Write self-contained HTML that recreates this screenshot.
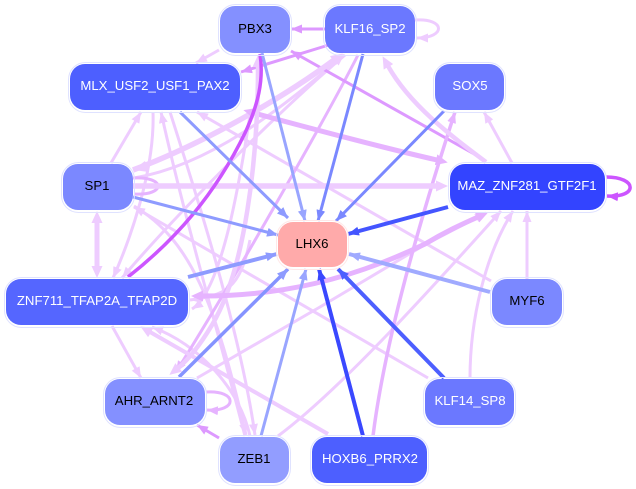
<!DOCTYPE html>
<html><head><meta charset="utf-8"><style>
html,body{margin:0;padding:0;background:#fff}
svg{display:block}
text{font-family:"Liberation Sans",sans-serif;font-size:13.2px;text-anchor:middle}
path{fill:none;stroke-linecap:butt}
.L{stroke:#eeccff}.M{stroke:#e6b3ff}.D{stroke:#dd99ff}.P{stroke:#cc55ff}
</style></head><body>
<svg width="636" height="489" viewBox="0 0 636 489" xmlns="http://www.w3.org/2000/svg">
<defs>
<marker id="aL" markerUnits="userSpaceOnUse" markerWidth="12" markerHeight="10" refX="11" refY="5" orient="auto-start-reverse"><polygon points="0,0.5 11,5 0,9.5" fill="#eeccff"/></marker>
<marker id="aM" markerUnits="userSpaceOnUse" markerWidth="12" markerHeight="10" refX="11" refY="5" orient="auto-start-reverse"><polygon points="0,0.5 11,5 0,9.5" fill="#e6b3ff"/></marker>
<marker id="aD" markerUnits="userSpaceOnUse" markerWidth="12" markerHeight="10" refX="11" refY="5" orient="auto-start-reverse"><polygon points="0,0.5 11,5 0,9.5" fill="#dd99ff"/></marker>
<marker id="aP" markerUnits="userSpaceOnUse" markerWidth="12" markerHeight="10" refX="11" refY="5" orient="auto-start-reverse"><polygon points="0,0.5 11,5 0,9.5" fill="#cc55ff"/></marker>
<marker id="tL" markerUnits="userSpaceOnUse" markerWidth="13" markerHeight="12" refX="1" refY="6" orient="auto-start-reverse"><polygon points="0,0.5 12,6 0,11.5" fill="#eeccff"/></marker>
<marker id="tM" markerUnits="userSpaceOnUse" markerWidth="13" markerHeight="12" refX="1" refY="6" orient="auto-start-reverse"><polygon points="0,0.5 12,6 0,11.5" fill="#e6b3ff"/></marker>
<marker id="b1" markerUnits="userSpaceOnUse" markerWidth="12" markerHeight="10" refX="11" refY="5" orient="auto"><polygon points="0,0.5 11,5 0,9.5" fill="#99a5ff"/></marker>
<marker id="b2" markerUnits="userSpaceOnUse" markerWidth="12" markerHeight="10" refX="11" refY="5" orient="auto"><polygon points="0,0.5 11,5 0,9.5" fill="#7a88ff"/></marker>
<marker id="b3" markerUnits="userSpaceOnUse" markerWidth="12" markerHeight="10" refX="11" refY="5" orient="auto"><polygon points="0,0.5 11,5 0,9.5" fill="#4455ff"/></marker>
<marker id="b4" markerUnits="userSpaceOnUse" markerWidth="12" markerHeight="10" refX="11" refY="5" orient="auto"><polygon points="0,0.5 11,5 0,9.5" fill="#3a48ff"/></marker>
<marker id="b5" markerUnits="userSpaceOnUse" markerWidth="12" markerHeight="10" refX="11" refY="5" orient="auto"><polygon points="0,0.5 11,5 0,9.5" fill="#4d5fff"/></marker>
<marker id="b6" markerUnits="userSpaceOnUse" markerWidth="12" markerHeight="10" refX="11" refY="5" orient="auto"><polygon points="0,0.5 11,5 0,9.5" fill="#8e9bff"/></marker>
<marker id="b7" markerUnits="userSpaceOnUse" markerWidth="12" markerHeight="10" refX="11" refY="5" orient="auto"><polygon points="0,0.5 11,5 0,9.5" fill="#a0aaff"/></marker>
</defs>

<!-- light edges -->
<g stroke-width="3">
<path class="L" d="M415 20C446 18 446 38 417 38" marker-end="url(#aL)"/>
<path class="L" d="M219 50L196 63" marker-end="url(#aL)"/>
<path class="L" d="M111 163L141 112" marker-end="url(#aL)"/>
<path class="L" d="M512 163L484 112" marker-end="url(#aL)"/>
<path class="L" d="M527 279L527 211" marker-end="url(#aL)"/>
<path class="L" d="M470 378C470 320 485 255 513 211" marker-end="url(#aL)"/>
<path class="L" d="M278 436C340 390 430 290 501 211" marker-end="url(#aL)"/>
<path class="L" d="M197 378L320 307L426 244L486 213" marker-end="url(#aL)"/>
<path class="L" d="M112 326L141 378" marker-end="url(#aL)"/>
<path class="L" d="M491 281L197 112" marker-end="url(#aL)"/>
<path class="L" d="M428 378L134 207" marker-end="url(#aL)"/>
<path class="L" d="M250 436C240 390 200 345 152 327" marker-end="url(#aL)"/>
<path class="L" d="M245 436C215 320 185 220 161 112" marker-end="url(#aL)"/>
<path class="L" d="M170 112C195 190 240 330 255 435" marker-end="url(#aL)"/>
<path class="L" d="M134 206C190 240 215 300 246 435" marker-end="url(#aL)"/>
<path class="L" d="M153 112C155 170 130 240 113 278" marker-end="url(#aL)"/>
<path class="L" d="M345 55C280 110 180 210 122 278" marker-end="url(#aL)"/>
<path class="L" d="M134 178C210 165 280 110 344 55" marker-end="url(#aL)"/>
<path class="L" d="M250 240C240 290 225 295 190 300" marker-end="url(#aL)"/>
<path class="L" d="M250 115C240 180 222 290 192 309" marker-end="url(#aL)"/>
<path class="D" d="M332 44L241 72" marker-end="url(#aD)"/>
<path class="D" d="M325 29L291 29" marker-end="url(#aD)"/>
<path class="D" d="M219 438L197 425" marker-end="url(#aD)"/>
<path class="M" d="M358 55C330 110 240 270 176 372" marker-end="url(#aM)"/>
<path class="M" d="M133 178C166 176 166 196 134 194"/>
<path class="M" d="M206 392C238 390 238 412 207 410" marker-end="url(#aM)"/>
<path class="D" d="M476 155L291 51" marker-end="url(#aD)"/>
<path class="P" d="M606 177C638 177 638 198 607 196" marker-end="url(#aP)" stroke-width="3.500"/>
<path class="M" d="M373 436C385 340 420 220 455 112" marker-end="url(#aM)" stroke-width="3.500"/>
</g>
<!-- thick light -->
<path class="L" stroke-width="5.500" d="M133 170C200 145 280 100 334 60" marker-end="url(#tL)"/>
<polygon points="133,170 145,161 149,172" fill="#eeccff"/>
<path class="L" stroke-width="4.500" d="M486 162C450 135 410 105 388 66" marker-end="url(#tL)"/>
<path class="L" stroke-width="5.500" d="M133 186L437 186" marker-end="url(#tL)"/>
<path class="L" stroke-width="5" d="M97 222L97 267" marker-start="url(#tL)" marker-end="url(#tL)"/>
<path class="M" stroke-width="5" d="M254 113C320 131 380 147 437 160" marker-start="url(#tM)" marker-end="url(#tM)"/>
<path class="L" stroke-width="4.500" d="M258 66C258 160 245 270 212 325C200 345 188 360 178 368" marker-start="url(#tL)" marker-end="url(#tL)"/>
<path class="L" stroke-width="4" d="M328 434L150 332" marker-end="url(#tL)"/>
<path class="M" stroke-width="5" d="M202 296C280 296 350 280 425 244C445 232 460 225 478 217" marker-start="url(#tM)" marker-end="url(#tM)"/>
<path class="P" stroke-width="3.500" d="M128 277C175 240 215 195 245 133C258 105 264 80 260 54"/>

<!-- blue edges into LHX6 -->
<g stroke-width="3">
<path stroke="#99a5ff" d="M262 53L305 221" marker-end="url(#b1)"/>
<path stroke="#7a88ff" d="M363 54L318 221" marker-end="url(#b2)"/>
<path stroke="#7a88ff" d="M444 111L336 221" marker-end="url(#b2)"/>
<path stroke="#4455ff" stroke-width="4" d="M448 207L348 234" marker-end="url(#b3)"/>
<path stroke="#8e9bff" d="M180 112L288 218" marker-end="url(#b6)"/>
<path stroke="#8e9bff" d="M133 197L278 235" marker-end="url(#b6)"/>
<path stroke="#8e9bff" stroke-width="4" d="M188 277L277 254" marker-end="url(#b6)"/>
<path stroke="#8593ff" stroke-width="3.500" d="M179 377L288 269" marker-end="url(#b6)"/>
<path stroke="#99a5ff" d="M261 436L306 269" marker-end="url(#b1)"/>
<path stroke="#3a48ff" stroke-width="4" d="M363 436L319 269" marker-end="url(#b4)"/>
<path stroke="#4d5fff" stroke-width="4" d="M444 378L338 269" marker-end="url(#b5)"/>
<path stroke="#a0aaff" stroke-width="4" d="M490 292L349 254" marker-end="url(#b7)"/>
</g>

<!-- nodes -->
<g fill="none" stroke="#dfe2ff" stroke-width="1">
<rect x="218.500" y="4.500" width="73" height="51" rx="17"/>
<rect x="68.500" y="62.500" width="173" height="50" rx="17"/>
<rect x="323.500" y="4.500" width="93" height="51" rx="17"/>
<rect x="433.500" y="62.500" width="72" height="50" rx="17"/>
<rect x="448.500" y="162.500" width="158" height="50" rx="17"/>
<rect x="61.500" y="162.500" width="73" height="50" rx="17"/>
<rect x="276.500" y="220.500" width="72" height="49" rx="17" stroke="#ffe8e8"/>
<rect x="4.500" y="277.500" width="185" height="50" rx="17"/>
<rect x="490.500" y="277.500" width="73" height="50" rx="17"/>
<rect x="103.500" y="377.500" width="103" height="50" rx="17"/>
<rect x="423.500" y="377.500" width="92" height="50" rx="17"/>
<rect x="218.500" y="435.500" width="72" height="50" rx="17"/>
<rect x="310.500" y="435.500" width="118" height="50" rx="17"/>
</g>
<rect x="220" y="6" width="70" height="47" rx="15" fill="#8490ff"/>
<rect x="70" y="64" width="170" height="46" rx="15" fill="#4d5fff"/>
<rect x="325" y="6" width="90" height="47" rx="15" fill="#6b78ff"/>
<rect x="435" y="64" width="69" height="46" rx="15" fill="#6b78ff"/>
<rect x="450" y="164" width="155" height="46" rx="15" fill="#3344ff"/>
<rect x="63" y="164" width="70" height="46" rx="15" fill="#7b88ff"/>
<rect x="278" y="222" width="69" height="45" rx="15" fill="#ffaaaa"/>
<rect x="6" y="279" width="182" height="46" rx="15" fill="#5566ff"/>
<rect x="492" y="279" width="70" height="46" rx="15" fill="#7b88ff"/>
<rect x="105" y="379" width="100" height="46" rx="15" fill="#8490ff"/>
<rect x="425" y="379" width="89" height="46" rx="15" fill="#6b78ff"/>
<rect x="220" y="437" width="69" height="46" rx="15" fill="#929dff"/>
<rect x="312" y="437" width="115" height="46" rx="15" fill="#4d5fff"/>

<text x="255" y="33" fill="#000">PBX3</text>
<text x="155" y="90" fill="#fff">MLX_USF2_USF1_PAX2</text>
<text x="370" y="33" fill="#fff">KLF16_SP2</text>
<text x="470" y="90" fill="#fff">SOX5</text>
<text x="527" y="190" fill="#fff">MAZ_ZNF281_GTF2F1</text>
<text x="97" y="190" fill="#000">SP1</text>
<text x="312" y="248" fill="#000">LHX6</text>
<text x="97" y="305" fill="#fff">ZNF711_TFAP2A_TFAP2D</text>
<text x="527" y="305" fill="#000">MYF6</text>
<text x="154" y="405" fill="#000">AHR_ARNT2</text>
<text x="470" y="405" fill="#fff">KLF14_SP8</text>
<text x="254" y="463" fill="#000">ZEB1</text>
<text x="370" y="463" fill="#fff">HOXB6_PRRX2</text>
</svg>
</body></html>
